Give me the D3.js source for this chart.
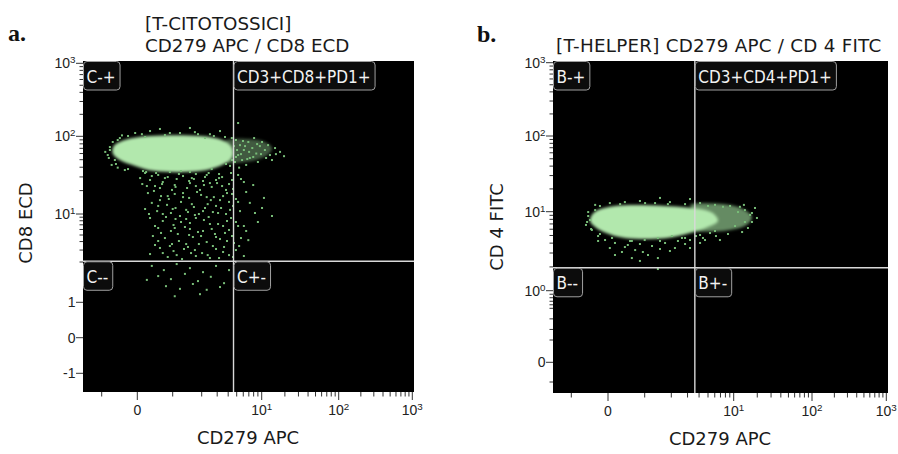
<!DOCTYPE html>
<html><head><meta charset="utf-8">
<script src="https://cdn.jsdelivr.net/npm/d3@7"></script>
<style>body{margin:0;background:#fff}svg{display:block}</style>
</head><body>
<svg id="c" width="898" height="454"></svg>
<script>
// ---------------- DATA ----------------
const panelLetters = ["a.", "b."];
const titleA = ["[T-CITOTOSSICI]", "CD279 APC / CD8 ECD"];
const titleB = ["[T-HELPER] CD279 APC / CD 4 FITC"];
const xTitleA = "CD279 APC", yTitleA = "CD8 ECD";
const xTitleB = "CD279 APC", yTitleB = "CD 4 FITC";

const quadLabelsA = ["C-+", "CD3+CD8+PD1+", "C--", "C+-"];
const quadLabelsB = ["B-+", "CD3+CD4+PD1+", "B--", "B+-"];
const gateA = [4.6, 2.05];   // [CD279 APC, CD8 ECD]
const gateB = [3.6, 1.95];   // [CD279 APC, CD 4 FITC]

const xMajor = [0, 10, 100, 1000];
const xMajorLabels = ["0", "10^1", "10^2", "10^3"];
const xMinor = [-1, 1, 2, 3, 4, 5, 6, 7, 8, 9, 20, 30, 40, 50, 60, 70, 80, 90, 200, 300, 400, 500, 600, 700, 800, 900];
const yMajorA = [-1, 0, 1, 10, 100, 1000];
const yMajorLabelsA = ["-1", "0", "1", "10^1", "10^2", "10^3"];
const yMinorA = [2, 3, 4, 5, 6, 7, 8, 9, 20, 30, 40, 50, 60, 70, 80, 90, 200, 300, 400, 500, 600, 700, 800, 900];
const yMajorB = [0, 1, 10, 100, 1000];
const yMajorLabelsB = ["0", "10^0", "10^1", "10^2", "10^3"];
const yMinorB = [-0.2, 0.2, 0.3, 0.4, 0.5, 0.6, 0.7, 0.8, 0.9, 2, 3, 4, 5, 6, 7, 8, 9, 20, 30, 40, 50, 60, 70, 80, 90, 200, 300, 400, 500, 600, 700, 800, 900];

// outlines of the dense populations, row by row: [y, xLeft, xRight]
const coreA = [[100.6, 0.36, 1.92], [89.6, -0.35, 3.41], [74.8, -0.66, 4.31], [60, -0.69, 4.54], [49.5, -0.49, 4.2], [41.6, -0.06, 3.23], [35.7, 0.50, 1.92]];
const haloA = [[87, 3.68, 10.1], [70.6, 4.0, 13.6], [55.8, 3.78, 11.4], [46.7, 3.68, 6.3]];
const coreB = [[11.9, 0.19, 1.70], [10.5, -0.27, 4.64], [9.1, -0.44, 6.04], [7.63, -0.49, 6.55], [6.4, -0.35, 5.0], [5.37, -0.05, 3.19], [4.65, 0.46, 1.80]];
const haloB = [[12.3, 3.19, 9.06], [10.5, 3.6, 13.9], [8.57, 4.10, 17.1], [7.0, 4.10, 15.2], [5.87, 3.35, 9.06]];

// individual events [CD279 APC, CD8 ECD]
const dotsA = [
 [-0.77,66.6],[-0.69,84.5],[-0.83,57.4],[-0.63,49.5],[-0.49,95],[-0.72,42.8],[-0.55,39.5],[-0.9,63],[-0.35,36.8],[-0.43,103],
 [-0.06,111],[0.36,118],[0.78,104],[1.19,111],[1.7,114],[2.48,107],[3.68,98],[0.64,126],[1.51,130],[2.18,95],[0.22,98],[3.23,118],
 [4.9,89.6],[5.48,77],[6.1,66.6],[5.2,57.4],[6.9,84.5],[7.7,70.6],[8.6,60],[5.8,49.5],[7.2,52.6],[9.5,74.8],[11,66.6],[12.8,57.4],
 [10.1,84.5],[14.9,70.6],[17.3,63],[6.5,42.8],[4.78,46.7],[9.0,46.7],[12.1,77],[13.6,49.5],[8.1,95],[19.5,55.5],[5.35,39.5],[4.2,41.6],[4.4,95],
 [5.2,152],
 [5.05,66.6],[5.63,59],[6.3,74.8],[7.05,63],[7.9,54.2],[8.8,79.4],[9.8,59],[6.7,51],[4.9,54.2],[5.95,87],[11.4,52.6],[15.3,59],
 [-0.55,89.6],[-0.26,101],[0.13,107],[0.92,111],[1.83,107],[2.75,101],[-0.77,72.7],[-0.8,52.6],[-0.6,44],[-0.26,37.9],[0.25,34.7],
 [1.51,34.7],[2.60,37.9],[3.78,44],[4.42,49.5],[4.66,74.8],
 [0.22,33.7],[0.59,31.8],[0.92,34.7],[1.28,30.8],[1.74,32.7],[2.40,33.7],[3.41,29.9],[0.36,27.4],[0.72,25.8],[1.10,28.2],[1.51,25.0],
 [2.07,26.6],[2.91,27.4],[4.09,24.3],[0.08,29.0],[5.2,31.8],[6.1,25.8],[0.50,22.9],[1.41,21.6],[2.60,22.3],[3.78,20.4],[0.98,20.4],
 [0.30,18.6],[0.67,17.0],[1.05,18.1],[1.48,16.1],[1.97,17.6],[2.75,16.5],[3.88,18.6],[4.90,15.6],[0.41,13.9],[0.84,13.1],[1.22,14.3],
 [1.66,12.3],[2.34,13.4],[3.32,11.95],[4.54,12.7],[0.56,10.9],[0.95,10.3],[1.38,11.3],[1.87,10.0],[2.68,10.6],[3.78,10.0],[5.48,10.9],
 [7.2,13.9],[10.1,11.95],[0.22,11.6],[6.5,19.2],[1.92,20.4],
 [0.36,8.76],[0.72,7.94],[1.07,8.48],[1.51,7.43],[2.12,8.2],[3.07,7.19],[4.31,8.76],[0.59,6.30],[0.95,5.71],[1.34,6.51],[1.83,5.52],
 [2.60,6.10],[3.68,5.35],[5.2,6.73],[0.78,4.51],[1.16,4.08],[1.62,4.67],[2.28,3.94],[3.23,4.36],[4.66,3.81],[0.44,4.83],[6.5,5.71],
 [9.0,7.68],[13.6,9.36],[0.50,3.56],[5.63,4.51],[1.38,8.48],
 [0.64,3.22],[1.02,2.90],[1.44,3.33],[2.02,2.71],[2.91,3.11],[4.09,2.53],[0.86,2.37],[1.25,2.21],[1.74,2.45],[2.48,2.29],[3.50,2.81],
 [0.36,2.62],[4.90,3.0],[6.1,2.45],
 [0.41,30.8],[0.78,29.0],[1.16,32.7],[1.58,29.0],[2.18,29.9],[3.15,32.7],[4.42,27.4],[0.14,24.3],[0.64,21.6],[1.05,23.6],[1.74,22.9],
 [2.48,25.0],[3.41,22.9],[0.86,17.0],[1.28,18.6],[2.28,16.5],[3.23,15.1],[4.42,18.1],[0.64,15.1],[1.58,13.4],[1.07,11.95],[2.91,12.7],
 [2.07,10.9],[4.2,11.3],[0.72,10.0],[1.19,9.36],[1.70,9.67],[3.88,7.94],[2.48,7.19],[1.02,6.96],[0.50,6.73],[1.51,6.10],[4.42,4.83],
 [1.13,5.17],[1.97,4.83],[2.83,5.17],[1.38,3.68],[0.92,3.44],[3.59,3.33],[1.70,3.0],[2.34,2.53],[1.10,2.53],
 [0.16,35.7],[0.53,33.7],[0.86,29.9],[1.22,35.7],[1.66,28.2],[2.28,31.8],[3.15,29.0],[4.31,33.7],[0.27,22.9],[0.70,24.3],[1.07,22.3],
 [1.48,26.6],[2.12,23.6],[2.99,25.0],[4.54,21.0],[5.63,28.2],[0.47,19.8],[0.89,15.6],[1.28,16.5],[1.79,19.2],[2.54,15.1],[3.50,17.0],
 [5.2,14.3],[0.59,12.7],[1.0,11.6],[1.44,10.6],[2.18,11.95],[3.07,10.3],[4.09,14.3],[0.33,10.0],[0.81,9.06],[1.22,7.68],[1.74,8.76],
 [2.40,9.06],[3.50,6.73],[4.90,7.68],[0.67,5.35],[1.05,6.30],[1.48,5.0],[2.07,5.71],[2.91,4.67],[4.09,5.9],[6.1,6.73],[0.59,4.08],
 [0.98,3.68],[1.31,3.11],[1.87,3.68],[2.68,3.44],[3.88,4.08],[5.35,3.44],[0.72,2.71],[1.55,2.71],[3.15,2.29],[4.54,2.37],[8.3,10.3],
 [10.7,16.1],[6.9,4.2],[7.9,23.6],
 [0.41,1.87],[0.75,1.74],[1.10,1.93],[1.51,1.80],[2.07,1.68],[2.91,1.87],[4.09,1.74],[0.59,1.57],[0.95,1.49],[1.34,1.63],[1.83,1.44],
 [2.54,1.55],[3.59,1.39],[0.81,1.32],[1.19,1.26],[1.62,1.37],[2.28,1.24],[3.23,1.30],[4.90,1.80],[5.95,1.60],[1.05,1.11],[1.92,1.15],[0.27,1.47]
];
// individual events [CD279 APC, CD 4 FITC]
const dotsB = [
 [-0.54,9.9],[-0.49,7.85],[-0.60,6.8],[-0.44,5.87],[-0.35,12.3],[-0.27,4.92],
 [0.05,13.0],[0.46,13.4],[0.87,13.85],[1.31,13.0],[1.93,13.4],[2.82,12.6],[4.10,13.0],[6.04,12.3],[9.06,11.9],[3.19,14.7],[1.49,15.2],
 [13.9,10.5],[16.2,9.1],[17.1,7.41],[18.7,11.2],[15.2,6.22],[19.8,8.33],[12.8,5.53],[11.35,9.9],[13.5,12.3],
 [-0.08,4.38],[0.19,4.02],[0.54,3.79],[0.87,3.90],[1.21,3.68],[1.70,4.02],[2.36,4.26],[3.19,4.38],[4.41,4.65],[6.20,4.92],[8.57,5.22],
 [0.05,3.47],[0.74,3.27],[1.09,2.83],[1.49,3.37],[0.38,3.09],[0.87,2.38],[2.19,3.47],[4.10,4.02],[6.9,4.38],[-0.27,4.26],
 [0.11,4.65],[0.65,4.26],[1.0,4.38],[1.41,4.65],[2.03,4.92],[2.82,4.65],[3.71,4.92],[5.28,5.37],
 [-0.35,10.5],[-0.22,11.9],[0.33,12.6],[1.01,13.0],[1.83,12.6],[-0.54,8.82],[-0.57,7.41],[-0.46,6.04],[-0.22,5.22],[0.11,4.65],
 [0.6,4.26],[1.49,4.26],[2.61,4.65],[4.10,5.07],[6.04,5.7],[10.4,6.59],[13.9,7.41],[17.1,9.63],[12.0,11.6],[7.49,11.6],[5.0,11.9],
 [4.64,4.38],[2.82,3.90],[0.46,3.57],[0.95,3.09],[1.93,3.18],[0.19,2.83],[1.41,2.59],[0.65,2.59],[3.19,3.47],
 [1.41,1.88]
];

// ---------------- LAYOUT ----------------
const FONT = "'DejaVu Sans', Verdana, sans-serif";
const LABELFONT = "'DejaVu Sans Condensed', 'DejaVu Sans', sans-serif";
const TICKFONT = "'Liberation Sans', Arial, sans-serif";
const panels = [
 { id: "a", frame: { x0: 83, x1: 414, y0: 61, y1: 392 },
   xKnots: [[-1.52, 83], [-1, 101.7], [0, 137.3], [1, 172.7], [2, 201.7], [5, 236.7], [10, 261.7], [100, 338.7], [1000, 412.3], [1050, 414]],
   yKnots: [[-1.53, 392], [-1, 373.3], [0, 337.7], [1, 302.3], [2, 262], [5, 235], [10, 214], [100, 136.3], [1000, 63.3], [1080, 61]],
   yMajor: yMajorA, yMajorLabels: yMajorLabelsA, yMinor: yMinorA,
   core: coreA, halo: haloA, haloOpacity: 0.4, dots: dotsA, gate: gateA, quads: quadLabelsA,
   xTitle: xTitleA, yTitle: yTitleA, xTitlePos: [248, 444], yTitlePos: [32, 223] },
 { id: "b", frame: { x0: 553, x1: 888, y0: 61, y1: 393 },
   xKnots: [[-1.5, 553], [-1, 571.3], [0, 608], [1, 644.7], [2, 671.3], [5, 708], [10, 733.7], [100, 812], [1000, 886.3], [1050, 888]],
   yKnots: [[-0.31, 393], [-0.2, 382], [0, 362.3], [0.2, 340], [0.5, 308.3], [1, 290.7], [10, 211.7], [100, 136], [1000, 62.7], [1030, 61]],
   yMajor: yMajorB, yMajorLabels: yMajorLabelsB, yMinor: yMinorB,
   core: coreB, halo: haloB, haloOpacity: 0.62, dots: dotsB, gate: gateB, quads: quadLabelsB,
   xTitle: xTitleB, yTitle: yTitleB, xTitlePos: [720, 445], yTitlePos: [503, 227] }
];

function tf(v) { const a = Math.abs(v); return a <= 1 ? v : Math.sign(v) * (1 + Math.log10(a)); }
function makeScale(knots) {
  const s = d3.scaleLinear().domain(knots.map(k => tf(k[0]))).range(knots.map(k => k[1]));
  return v => s(tf(v));
}

const svg = d3.select("#c");
const defs = svg.append("defs");
defs.append("filter").attr("id", "soft").attr("x", "-30%").attr("y", "-60%").attr("width", "160%").attr("height", "220%")
  .append("feGaussianBlur").attr("stdDeviation", 1.6);

function setLabel(sel, s) {
  const parts = s.split("^");
  sel.append("tspan").text(parts[0]);
  if (parts[1] !== undefined) sel.append("tspan").attr("dy", "-0.5em").attr("font-size", "0.7em").text(parts[1]);
}

function outline(rows, x, y) {
  const left = rows.map(r => [x(r[1]), y(r[0])]);
  const right = rows.slice().reverse().map(r => [x(r[2]), y(r[0])]);
  return d3.line().curve(d3.curveCatmullRomClosed.alpha(0.5))(left.concat(right));
}

panels.forEach(p => {
  const x = makeScale(p.xKnots), y = makeScale(p.yKnots);
  const f = p.frame;
  const g = svg.append("g");
  defs.append("clipPath").attr("id", "clip" + p.id).append("rect")
    .attr("x", f.x0).attr("y", f.y0).attr("width", f.x1 - f.x0).attr("height", f.y1 - f.y0);
  g.append("rect").attr("x", f.x0).attr("y", f.y0).attr("width", f.x1 - f.x0).attr("height", f.y1 - f.y0).attr("fill", "#000");

  const plot = g.append("g").attr("clip-path", `url(#clip${p.id})`);
  const cg = plot.append("g").attr("filter", "url(#soft)");
  cg.append("path").attr("d", outline(p.halo, x, y)).attr("fill", "#a3e09f").attr("fill-opacity", p.haloOpacity);
  cg.append("path").attr("d", outline(p.core, x, y)).attr("fill", "#b2e8ad");
  plot.selectAll("rect.dot").data(p.dots).join("rect").attr("class", "dot")
    .attr("x", d => x(d[0]) - 1).attr("y", d => y(d[1]) - 1).attr("width", 2).attr("height", 2)
    .attr("fill", "#78bd78");

  // gate lines
  const gx = x(p.gate[0]), gy = y(p.gate[1]);
  plot.append("line").attr("x1", gx).attr("x2", gx).attr("y1", f.y0).attr("y2", f.y1).attr("stroke", "#d9d9d9").attr("stroke-width", 1.4);
  plot.append("line").attr("x1", f.x0).attr("x2", f.x1).attr("y1", gy).attr("y2", gy).attr("stroke", "#d9d9d9").attr("stroke-width", 1.4);

  // quadrant labels
  const anchors = [[f.x0, f.y0], [gx, f.y0], [f.x0, gy], [gx, gy]];
  p.quads.forEach((q, i) => {
    const lg = plot.append("g").attr("transform", `translate(${anchors[i][0]},${anchors[i][1]})`);
    const box = lg.append("rect").attr("x", 0.5).attr("y", 0.5).attr("height", 28.5).attr("rx", 3.5)
      .attr("fill", "#0c0c0c").attr("stroke", "#a0a0a0").attr("stroke-width", 1);
    const t = lg.append("text").attr("x", 3.5).attr("y", 21.5).attr("fill", "#f2f2f2")
      .attr("font-family", LABELFONT).attr("font-size", 17).text(q);
    box.attr("width", t.node().getComputedTextLength() + 7.5);
  });

  // axes ticks
  const ax = g.append("g").attr("stroke", "#333").attr("stroke-width", 1);
  ax.selectAll("line.xmaj").data(xMajor).join("line").attr("class", "xmaj").attr("x1", d => x(d)).attr("x2", d => x(d)).attr("y1", f.y1).attr("y2", f.y1 + 8);
  ax.selectAll("line.xmin").data(xMinor).join("line").attr("class", "xmin").attr("x1", d => x(d)).attr("x2", d => x(d)).attr("y1", f.y1).attr("y2", f.y1 + 4.5);
  ax.selectAll("line.ymaj").data(p.yMajor).join("line").attr("class", "ymaj").attr("y1", d => y(d)).attr("y2", d => y(d)).attr("x1", f.x0 - 7).attr("x2", f.x0);
  ax.selectAll("line.ymin").data(p.yMinor).join("line").attr("class", "ymin").attr("y1", d => y(d)).attr("y2", d => y(d)).attr("x1", f.x0 - 3.5).attr("x2", f.x0);

  xMajor.forEach((v, i) => {
    const t = g.append("text").attr("x", x(v)).attr("y", f.y1 + 23).attr("text-anchor", "middle")
      .attr("font-family", TICKFONT).attr("font-size", 14).attr("fill", "#222");
    setLabel(t, xMajorLabels[i]);
  });
  p.yMajor.forEach((v, i) => {
    const t = g.append("text").attr("x", f.x0 - 7.5).attr("y", y(v) + 5).attr("text-anchor", "end")
      .attr("font-family", TICKFONT).attr("font-size", 14).attr("fill", "#222");
    setLabel(t, p.yMajorLabels[i]);
  });

  g.append("text").attr("x", p.xTitlePos[0]).attr("y", p.xTitlePos[1]).attr("text-anchor", "middle")
    .attr("font-family", FONT).attr("font-size", 18).attr("fill", "#1a1a1a").text(p.xTitle);
  g.append("text").attr("transform", `translate(${p.yTitlePos[0]},${p.yTitlePos[1]}) rotate(-90)`).attr("text-anchor", "middle")
    .attr("font-family", FONT).attr("font-size", 18).attr("fill", "#1a1a1a").text(p.yTitle);
});

// titles and panel letters
const SERIF = "'Liberation Serif', 'DejaVu Serif', serif";
svg.append("text").attr("x", 8).attr("y", 41).attr("font-family", SERIF)
  .attr("font-weight", "bold").attr("font-size", 24).attr("fill", "#111").text(panelLetters[0]);
svg.append("text").attr("x", 477).attr("y", 41.5).attr("font-family", SERIF)
  .attr("font-weight", "bold").attr("font-size", 24).attr("fill", "#111").text(panelLetters[1]);
titleA.forEach((s, i) => svg.append("text").attr("x", 145).attr("y", 29.5 + i * 22).attr("font-family", FONT)
  .attr("font-size", 18.3).attr("fill", "#1a1a1a").style("white-space", "pre").text(s));
titleB.forEach(s => svg.append("text").attr("x", 556).attr("y", 51.5).attr("font-family", FONT)
  .attr("font-size", 18.3).attr("letter-spacing", 0.25).attr("fill", "#1a1a1a").style("white-space", "pre").text(s));
</script>
</body></html>
